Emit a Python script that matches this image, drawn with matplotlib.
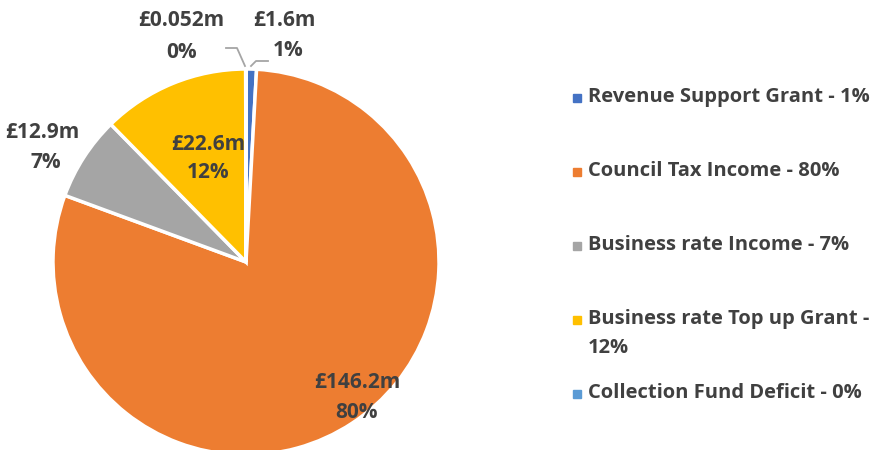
import matplotlib.pyplot as plt

# Funding sources (£m), in pie order (clockwise from 12 o'clock)
sources = ["Revenue Support Grant", "Council Tax Income", "Business rate Income",
           "Business rate Top up Grant", "Collection Fund Deficit"]
amounts = [1.6, 146.2, 12.9, 22.6, 0.052]
amount_labels = ["£1.6m", "£146.2m", "£12.9m", "£22.6m", "£0.052m"]
pct_labels = ["1%", "80%", "7%", "12%", "0%"]
legend_labels = ["Revenue Support Grant - 1%", "Council Tax Income - 80%",
                 "Business rate Income - 7%", "Business rate Top up Grant -\n12%",
                 "Collection Fund Deficit - 0%"]
colors = ["#4472C4", "#ED7D31", "#A5A5A5", "#FFC000", "#5B9BD5"]

W, H = 873, 450
fig = plt.figure(figsize=(W / 100, H / 100), dpi=100)
ax = fig.add_axes([0, 0, 1, 1])

cx, cy, r = 246, 262, 193
# y axis is flipped below, so -90 is 12 o'clock and "counterclock" runs clockwise
wedges, _ = ax.pie(amounts, colors=colors, startangle=-90, counterclock=True,
                   center=(cx, cy), radius=r, frame=True,
                   wedgeprops=dict(edgecolor="white", linewidth=2.5))
ax.set_xlim(0, W)
ax.set_ylim(H, 0)
ax.set_aspect("equal")
ax.axis("off")

font = dict(family="Open Sans", fontweight="bold", color="#404040")

# label positions (pixels)
label_pos = [(284, 20, 288, 50), (357, 383, 357, 412), (42, 132, 46, 163),
             (208, 144, 208, 172), (181, 20, 182, 52)]
for (ax1, ay1, ax2, ay2), a, p in zip(label_pos, amount_labels, pct_labels):
    ax.text(ax1, ay1, a, ha="center", va="center", fontsize=15, **font)
    ax.text(ax2, ay2, p, ha="center", va="center", fontsize=15, **font)

# leader lines for the two thin slices
ax.plot([226, 237, 245], [48, 48, 66], color="#A5A5A5", lw=1.3)
ax.plot([251, 256, 268], [66, 61, 61], color="#A5A5A5", lw=1.3)

# legend
legend_y = [98, 172, 246, 320, 394]
for y, lab, c in zip(legend_y, legend_labels, colors):
    ax.add_patch(plt.Rectangle((573, y - 4), 8, 8, color=c))
    ax.text(588, y - 11, lab, ha="left", va="top", linespacing=1.6,
            fontsize=14.5, **font)

fig.savefig("out.png", dpi=100)
